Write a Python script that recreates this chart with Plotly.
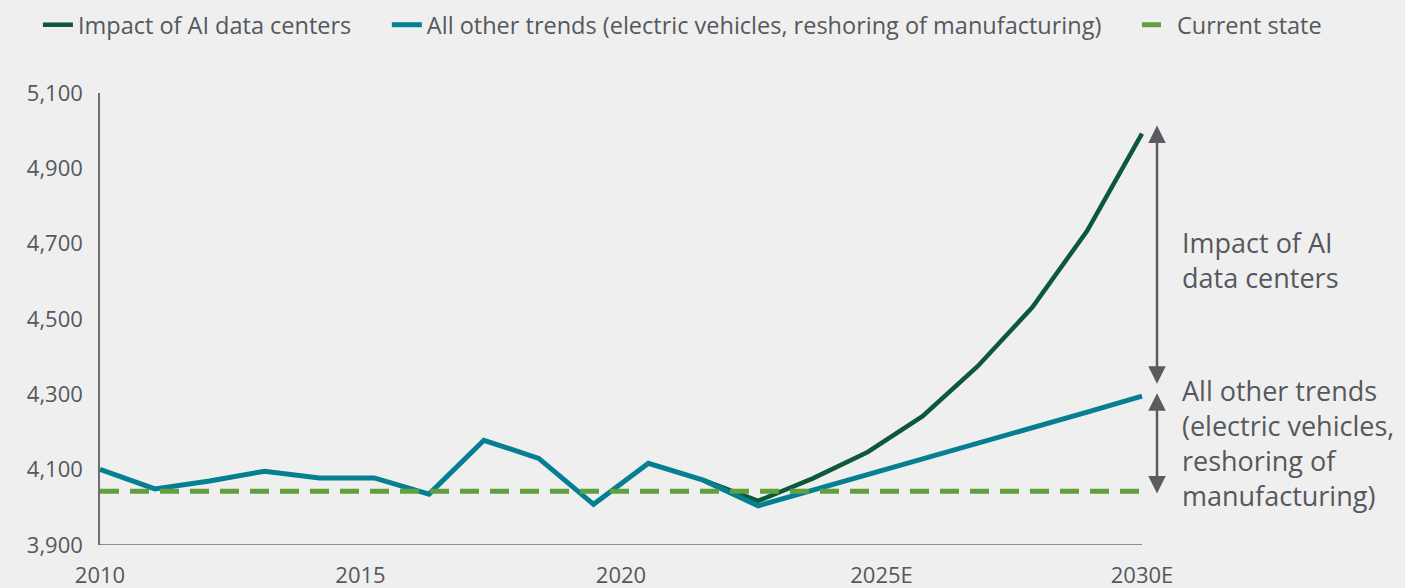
import plotly.graph_objects as go

# 20 points from 2010 to 2030E; the axis only labels five of them
POINTS = list(range(20))
TICK_POS = [0, 4.75, 9.5, 14.25, 19]
TICK_TEXT = ["2010", "2015", "2020", "2025E", "2030E"]

AI_IMPACT = [None, None, None, None, None, None, None, None, None, None, None,
             4072, 4017, 4077, 4147, 4242, 4374, 4531, 4734, 4992]
OTHER_TRENDS = [4101, 4049, 4070, 4096, 4078, 4078, 4035, 4178, 4130, 4008,
                4117, 4072, 4004, 4045, 4087, 4128, 4170, 4212, 4253, 4295]
CURRENT_STATE = [4043] * 20

DARK_GREEN = "#0d573a"
TEAL = "#057f91"
LIGHT_GREEN = "#62a03f"
GREY = "#55585c"
AXIS_GREY = "#6e6e72"
BG = "#efefef"
FONT = "Open Sans"
GAP = "\u00a0" * 5

# plot area runs wider than the data so the legend fits on one row
W, H = 1405, 588
L, R = 100, 2
DATA_RIGHT = 1142
X_MAX = POINTS[-1] * (W - R - L) / (DATA_RIGHT - L)
PX = (DATA_RIGHT - L) / POINTS[-1]

fig = go.Figure()
fig.add_trace(go.Scatter(x=POINTS, y=AI_IMPACT, mode="lines",
                         name="Impact of AI data centers" + GAP,
                         line={"color": DARK_GREEN, "width": 4.5}))
fig.add_trace(go.Scatter(x=POINTS, y=OTHER_TRENDS, mode="lines",
                         name="All other trends (electric vehicles, reshoring of manufacturing)" + GAP,
                         line={"color": TEAL, "width": 5}))
fig.add_trace(go.Scatter(x=POINTS, y=CURRENT_STATE, mode="lines",
                         name="Current state",
                         line={"color": LIGHT_GREEN, "width": 5, "dash": "19px,11px"}))

# x axis baseline only under the data
fig.add_shape(type="line", xref="x", yref="y", x0=POINTS[0], x1=POINTS[-1],
              y0=3900, y1=3900, line={"color": AXIS_GREY, "width": 1.5})

# Double-headed brackets to the right of the series ends
arrow = dict(xref="x", x=POINTS[-1] + 15 / PX, yref="y", axref="pixel", ax=0, ayref="y",
             text="", showarrow=True, arrowhead=2, startarrowhead=2,
             arrowside="end+start", arrowsize=1.4, startarrowsize=1.4,
             arrowwidth=2.5, arrowcolor="#5a5c60")
fig.add_annotation(y=AI_IMPACT[-1] + 22, ay=OTHER_TRENDS[-1] + 29, **arrow)
fig.add_annotation(y=OTHER_TRENDS[-1] + 8, ay=CURRENT_STATE[-1] - 10, **arrow)

label = dict(xref="x", x=POINTS[-1] + 38 / PX, yref="y", xanchor="left", yanchor="middle",
             showarrow=False, align="left",
             font={"family": FONT, "size": 27, "color": GREY})
fig.add_annotation(y=4656, text="Impact of AI<br>data centers", **label)
fig.add_annotation(y=4171, text="All other trends<br>(electric vehicles,<br>reshoring of<br>manufacturing)", **label)

fig.update_layout(
    width=W, height=H,
    margin={"l": L, "r": R, "t": 93, "b": 43},
    paper_bgcolor=BG, plot_bgcolor=BG,
    font={"family": FONT, "size": 22, "color": GREY},
    showlegend=True,
    legend={"orientation": "h", "xref": "container", "yref": "container",
            "x": 0.027, "y": 0.995, "xanchor": "left", "yanchor": "top",
            "font": {"size": 23.5}, "bgcolor": "rgba(0,0,0,0)",
            "tracegroupgap": 0},
    xaxis={"range": [0, X_MAX], "tickvals": TICK_POS, "ticktext": TICK_TEXT,
           "showgrid": False, "zeroline": False, "showline": False,
           "ticks": "", "ticklabelstandoff": 15, "automargin": False},
    yaxis={"range": [3900, 5100], "tick0": 3900, "dtick": 200, "tickformat": ",",
           "showgrid": False, "zeroline": False, "showline": True,
           "linecolor": AXIS_GREY, "linewidth": 1.5, "ticks": "",
           "ticklabelstandoff": 11, "automargin": False},
)

fig.write_html("out.html", config={"displayModeBar": False},
               post_script=f"document.body.style.margin='0';document.body.style.background='{BG}';")
